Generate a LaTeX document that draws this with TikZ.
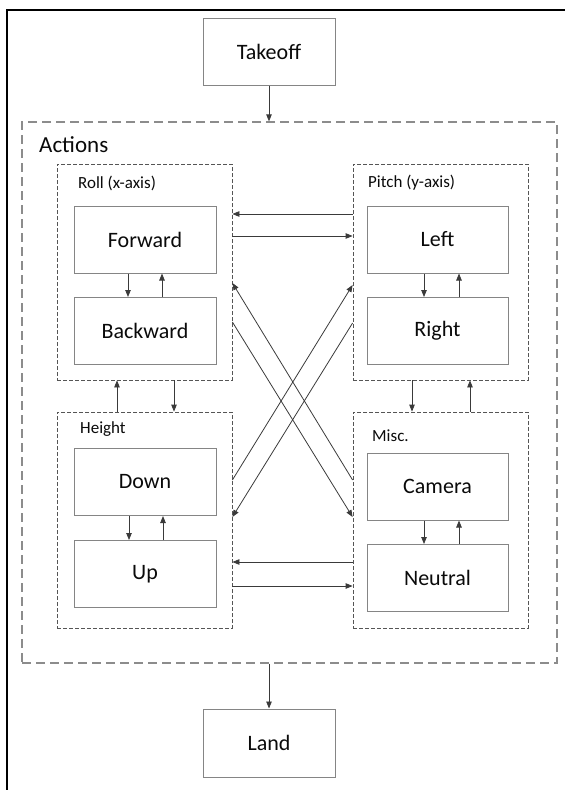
\documentclass[tikz,border=0pt]{standalone}
\usepackage{fontspec}
\setmainfont{Carlito}
\usetikzlibrary{arrows.meta}
\definecolor{boxgray}{HTML}{858585}
\definecolor{grpgray}{HTML}{555555}
\definecolor{outgray}{HTML}{8C8C8C}
\definecolor{arrgray}{HTML}{3A3A3A}
\definecolor{txt}{HTML}{0A0A0A}
\begin{document}
\begin{tikzpicture}[x=1pt,y=-1pt,
  box/.style={draw=boxgray, line width=1pt, minimum width=142pt, minimum height=67pt, inner sep=0pt, font=\fontsize{22}{24}\selectfont, text=txt},
  grp/.style={draw=grpgray, dash pattern=on 4pt off 2pt, line width=0.8pt, minimum width=175pt, minimum height=216pt, inner sep=0pt},
  outer/.style={draw=outgray, dash pattern=on 9pt off 5pt, line width=1.3pt, minimum width=535pt, minimum height=541pt, inner sep=0pt},
  arr/.style={draw=arrgray, line width=0.8pt, -{Triangle[length=7pt,width=5.5pt]}},
  lbl/.style={font=\fontsize{17}{19}\selectfont, anchor=west, inner sep=0pt, text=txt}]
\useasboundingbox (0,0) rectangle (565,790);
\draw[line width=2pt] (7,790) -- (7,10) -- (565,10);

% helper rows
\foreach \yy in {214,236,283,285,322,323,480,517,562,586}{\coordinate (h\yy) at (0,\yy);}

\node[box, minimum width=132pt] (takeoff) at (269,51.5) {Takeoff};
\node[box, minimum width=132pt, minimum height=68pt] (land) at (269,743) {Land};

\node[outer] (actions) at (289.5,392.5) {};
\node[lbl, font=\fontsize{23}{25}\selectfont] (actlbl) at (39,145) {Actions};

\node[grp] (roll) at (144.5,272) {};
\node[grp] (pitch) at (440.5,272) {};
\node[grp] (height) at (144.5,520) {};
\node[grp] (misc) at (440.5,520) {};

\node[lbl] (rolllbl) at (78,183) {Roll (x-axis)};
\node[lbl] (pitchlbl) at (368,183) {Pitch (y-axis)};
\node[lbl] (heightlbl) at (80,429) {Height};
\node[lbl] (misclbl) at (372,436) {Misc.};

\node[box] (forward) at (145,239.5) {Forward};
\node[box] (backward) at (145,331) {Backward};
\node[box, minimum width=141pt] (left) at (437.5,239.5) {Left};
\node[box, minimum width=141pt] (right) at (437.5,331) {Right};
\node[box] (down) at (145,482) {Down};
\node[box] (up) at (145,574) {Up};
\node[box, minimum width=141pt] (camera) at (437.5,486.5) {Camera};
\node[box, minimum width=141pt] (neutral) at (437.5,578) {Neutral};

% takeoff / land
\draw[arr] (takeoff.south) -- (takeoff.south |- actions.north);
\draw[arr] (land.north |- actions.south) -- (land.north);

% inner arrows
\draw[arr] ([xshift=-17pt]forward.south) -- ([xshift=-17pt]backward.north);
\draw[arr] ([xshift=17pt]backward.north) -- ([xshift=17pt]forward.south);
\draw[arr] ([xshift=-13.5pt]left.south) -- ([xshift=-13.5pt]right.north);
\draw[arr] ([xshift=21.5pt]right.north) -- ([xshift=21.5pt]left.south);
\draw[arr] ([xshift=-16pt]down.south) -- ([xshift=-16pt]up.north);
\draw[arr] ([xshift=18pt]up.north) -- ([xshift=18pt]down.south);
\draw[arr] ([xshift=-13.5pt]camera.south) -- ([xshift=-13.5pt]neutral.north);
\draw[arr] ([xshift=21.5pt]neutral.north) -- ([xshift=21.5pt]camera.south);

% group vertical arrows
\draw[arr] ([xshift=-27.5pt]height.north) -- ([xshift=-27.5pt]roll.south);
\draw[arr] ([xshift=29.5pt]roll.south) -- ([xshift=29.5pt]height.north);
\draw[arr] ([xshift=-28.5pt]pitch.south) -- ([xshift=-28.5pt]misc.north);
\draw[arr] ([xshift=29.5pt]misc.north) -- ([xshift=29.5pt]pitch.south);

% horizontal arrows
\draw[arr] (pitch.west |- h214) -- (roll.east |- h214);
\draw[arr] (roll.east |- h236) -- (pitch.west |- h236);
\draw[arr] (misc.west |- h562) -- (height.east |- h562);
\draw[arr] (height.east |- h586) -- (misc.west |- h586);

% diagonals
\draw[arr] (misc.west |- h480) -- (roll.east |- h283);
\draw[arr] (roll.east |- h322) -- (misc.west |- h517);
\draw[arr] (height.east |- h480) -- (pitch.west |- h285);
\draw[arr] (pitch.west |- h323) -- (height.east |- h517);
\end{tikzpicture}
\end{document}
